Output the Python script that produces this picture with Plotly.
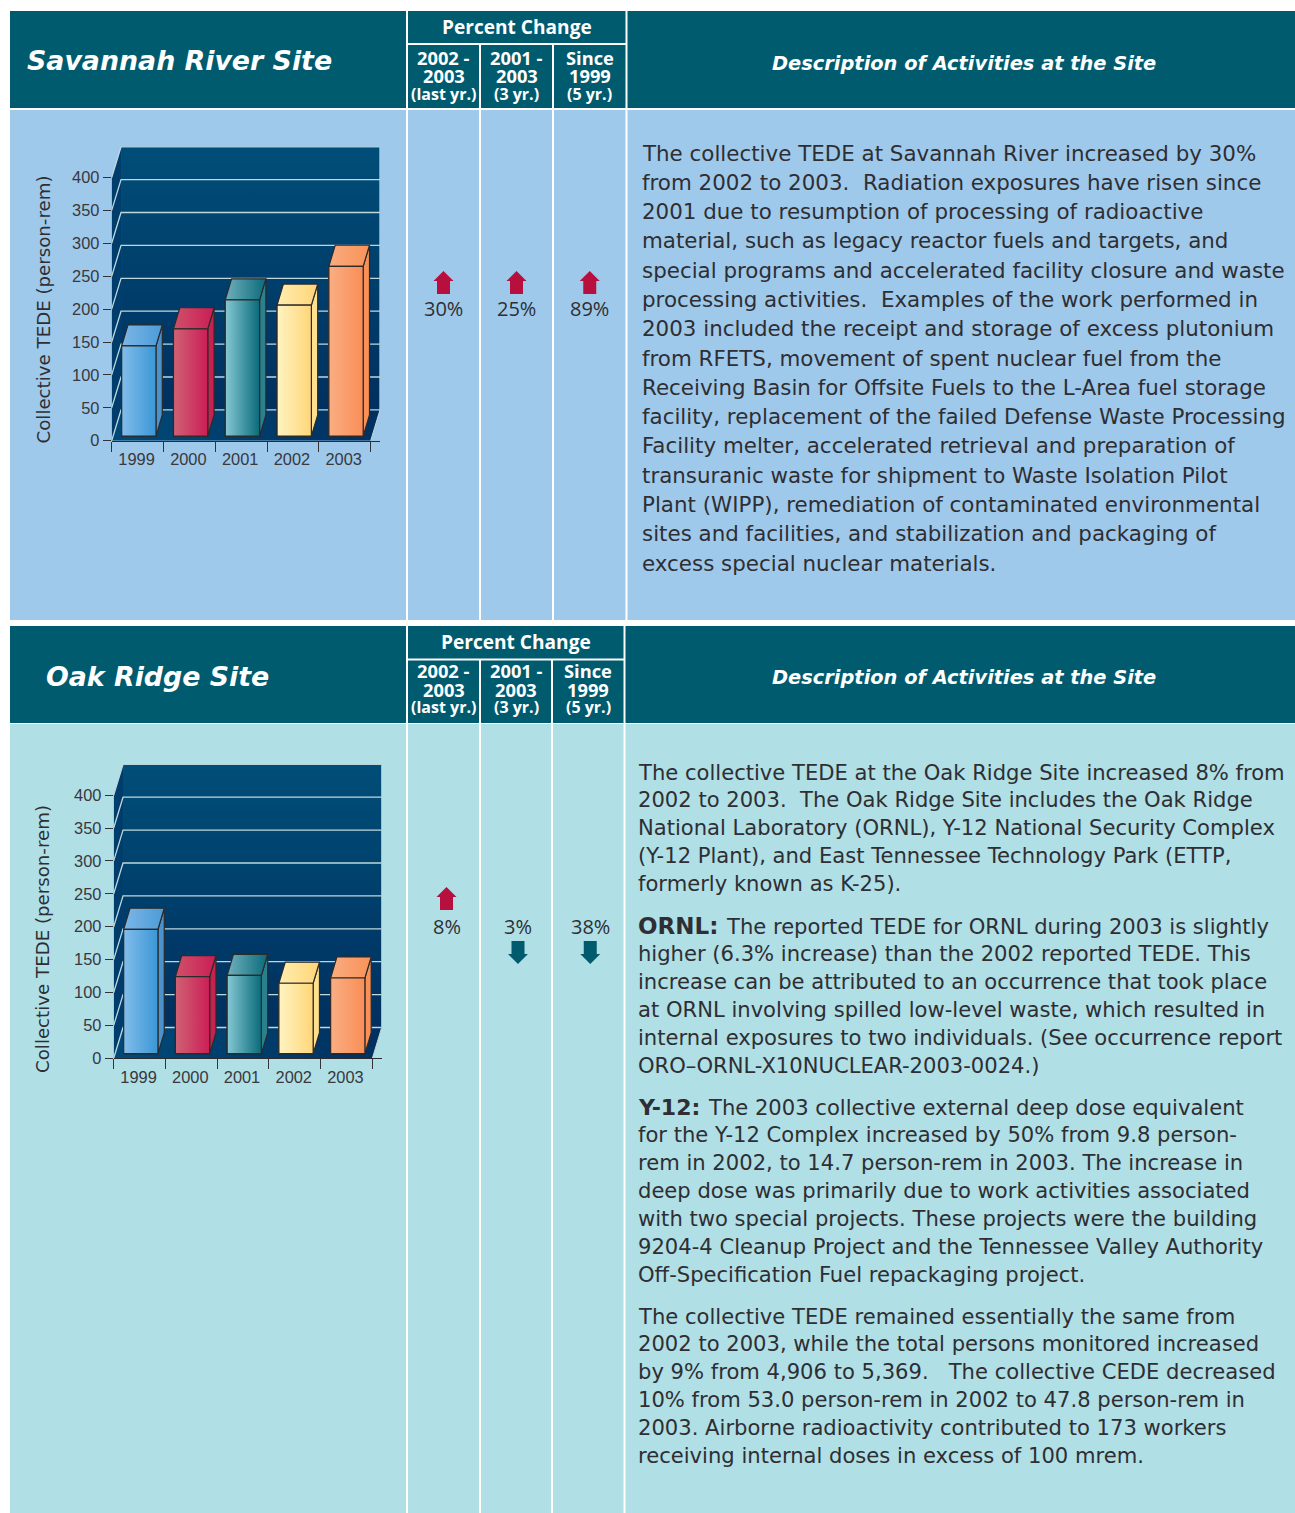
import plotly.graph_objects as go

W, H = 1295, 1513
TEAL = "#005B6F"
BLUE_BG = "#9FC9EA"
AQUA_BG = "#B0DFE6"
INK = "#2E2E33"
BODY_FONT = "DejaVu Sans"
HEAD_FONT = "Open Sans"

years = ["1999", "2000", "2001", "2002", "2003"]
y_ticks = [0, 50, 100, 150, 200, 250, 300, 350, 400]
savannah_values = [137, 163, 207, 199, 258]
oak_ridge_values = [189, 117, 119, 107, 115]

bar_faces = [("#82BDEA", "#3A97D6"), ("#CF6274", "#CB1E56"), ("#86C8D4", "#0A6A7A"),
             ("#FFF4C2", "#FFD678"), ("#F9AE84", "#FA8E56")]
bar_tops = [("#7DB6E6", "#4A9BD8"), ("#D0506A", "#C91E55"), ("#6FB0BC", "#0A6A7A"),
            ("#FFEDB0", "#FFD577"), ("#F9AC80", "#F99258")]
bar_sides = ["#4C92CC", "#C6224F", "#2A808D", "#FFE08E", "#F99058"]

savannah_text = [
    "The collective TEDE at Savannah River increased by 30%",
    "from 2002 to 2003.  Radiation exposures have risen since",
    "2001 due to resumption of processing of radioactive",
    "material, such as legacy reactor fuels and targets, and",
    "special programs and accelerated facility closure and waste",
    "processing activities.  Examples of the work performed in",
    "2003 included the receipt and storage of excess plutonium",
    "from RFETS, movement of spent nuclear fuel from the",
    "Receiving Basin for Offsite Fuels to the L-Area fuel storage",
    "facility, replacement of the failed Defense Waste Processing",
    "Facility melter, accelerated retrieval and preparation of",
    "transuranic waste for shipment to Waste Isolation Pilot",
    "Plant (WIPP), remediation of contaminated environmental",
    "sites and facilities, and stabilization and packaging of",
    "excess special nuclear materials.",
]
oak_par1 = [
    "The collective TEDE at the Oak Ridge Site increased 8% from",
    "2002 to 2003.  The Oak Ridge Site includes the Oak Ridge",
    "National Laboratory (ORNL), Y-12 National Security Complex",
    "(Y-12 Plant), and East Tennessee Technology Park (ETTP,",
    "formerly known as K-25).",
]
oak_par2 = [
    "The reported TEDE for ORNL during 2003 is slightly",
    "higher (6.3% increase) than the 2002 reported TEDE. This",
    "increase can be attributed to an occurrence that took place",
    "at ORNL involving spilled low-level waste, which resulted in",
    "internal exposures to two individuals. (See occurrence report",
    "ORO\u2013ORNL-X10NUCLEAR-2003-0024.)",
]
oak_par3 = [
    "The 2003 collective external deep dose equivalent",
    "for the Y-12 Complex increased by 50% from 9.8 person-",
    "rem in 2002, to 14.7 person-rem in 2003. The increase in",
    "deep dose was primarily due to work activities associated",
    "with two special projects. These projects were the building",
    "9204-4 Cleanup Project and the Tennessee Valley Authority",
    "Off-Specification Fuel repackaging project.",
]
oak_par4 = [
    "The collective TEDE remained essentially the same from",
    "2002 to 2003, while the total persons monitored increased",
    "by 9% from 4,906 to 5,369.   The collective CEDE decreased",
    "10% from 53.0 person-rem in 2002 to 47.8 person-rem in",
    "2003. Airborne radioactivity contributed to 173 workers",
    "receiving internal doses in excess of 100 mrem.",
]


def px(x):
    return x / W


def py(y):
    return 1 - y / H


shapes, notes = [], []


def rect(x0, y0, x1, y1, color):
    shapes.append(dict(type="rect", xref="paper", yref="paper", x0=px(x0), x1=px(x1),
                       y0=py(y0), y1=py(y1), fillcolor=color, line_width=0, layer="below"))


def text(x, y, s, size, color=INK, family=BODY_FONT, anchor="left", angle=0):
    notes.append(dict(xref="paper", yref="paper", x=px(x), y=py(y), text=s, showarrow=False,
                      xanchor=anchor, yanchor="middle", align=anchor, textangle=angle,
                      borderpad=0, font=dict(size=size, color=color, family=family)))


def arrow(cx, y_tip, up, color):
    s = 1 if up else -1
    pts = [(cx, y_tip), (cx + 10, y_tip + s * 10), (cx + 6.5, y_tip + s * 10), (cx + 6.5, y_tip + s * 23),
           (cx - 6.5, y_tip + s * 23), (cx - 6.5, y_tip + s * 10), (cx - 10, y_tip + s * 10)]
    path = "M " + " L ".join(f"{px(a):.5f},{py(b):.5f}" for a, b in pts) + " Z"
    shapes.append(dict(type="path", xref="paper", yref="paper", path=path, fillcolor=color,
                       line_width=0, layer="below"))


def panel(y_top, y_sub, y_head_end, y_body, y_end, cols, body_color, title, title_x, title_size,
          sub_offset, desc_offset, title_offset):
    c = cols
    rect(10, y_top, c[0], y_head_end, TEAL)
    rect(c[0] + 2, y_top, c[3], y_sub, TEAL)
    rect(c[0] + 2, y_sub + 2, c[1], y_head_end, TEAL)
    rect(c[1] + 2, y_sub + 2, c[2], y_head_end, TEAL)
    rect(c[2] + 2, y_sub + 2, c[3], y_head_end, TEAL)
    rect(c[3] + 2, y_top, 1295, y_head_end, TEAL)
    rect(10, y_body, c[0], y_end, body_color)
    rect(c[0] + 2, y_body, c[1], y_end, body_color)
    rect(c[1] + 2, y_body, c[2], y_end, body_color)
    rect(c[2] + 2, y_body, c[3], y_end, body_color)
    rect(c[3] + 2, y_body, 1295, y_end, body_color)
    text(title_x, y_top + title_offset, f"<b><i>{title}</i></b>", title_size, "white")
    text(964, y_top + desc_offset, "<b><i>Description of Activities at the Site</i></b>", 19.4, "white", anchor="center")
    text((c[0] + c[3]) / 2 + 1, y_top + 16, "<b>Percent Change</b>", 19.1, "white", HEAD_FONT, "center")
    heads = [("2002 -", "2003", "(last yr.)"), ("2001 -", "2003", "(3 yr.)"), ("Since", "1999", "(5 yr.)")]
    centers = [(c[0] + c[1]) / 2 + 1, (c[1] + c[2]) / 2 + 1, (c[2] + c[3]) / 2 + 1]
    for cx, lines in zip(centers, heads):
        for k, s in enumerate(lines):
            text(cx, y_top + sub_offset + k * 18, f"<b>{s}</b>", 16 if k == 2 else 18.3, "white", HEAD_FONT, "center")
    return centers


fig = go.Figure()

layout_axes = {}


def chart(idx, values, x0_px, x1_px, y0_px, y_top_px, y_title_x, y_title_y):
    """x0_px..x1_px / y0_px..y_top_px are the pixel box of the axes; data units map onto it."""
    base = f"{2 * idx + 1}" if idx else ""
    over = f"{2 * idx + 2}"
    xa, ya = "x" + base, "y" + base
    xo, yo = "x" + over, "y" + over
    dx, dy = 0.18, 46.8
    xmax = 5 + dx
    ymax = 400 + dy

    def add(xs, ys, fill=None, grad=None, line=None, lw=1.2, overlay=False):
        kw = dict(x=xs, y=ys, mode="lines", hoverinfo="skip", showlegend=False,
                  xaxis=xo if overlay else xa, yaxis=yo if overlay else ya)
        kw["line"] = dict(color=line or "rgba(0,0,0,0)", width=lw if line else 0)
        if fill or grad:
            kw["fill"] = "toself"
            if grad:
                kw["fillgradient"] = grad
            else:
                kw["fillcolor"] = fill
        fig.add_trace(go.Scatter(**kw))

    # side wall, floor, back wall
    add([0, dx, dx, 0, 0], [0, dy, ymax, 400, 0], fill="#003C6C")
    add([dx, xmax, xmax, dx, dx], [dy, dy, ymax, ymax, dy],
        grad=dict(type="vertical", colorscale=[[0, "#003060"], [1, "#004E78"]]))
    add([0, 5, xmax, dx, 0], [0, 0, dy, dy, 0],
        grad=dict(type="horizontal", colorscale=[[0, "#004A78"], [1, "#003060"]]))
    for t in y_ticks:
        add([0, dx, xmax], [t, t + dy, t + dy], line="#BFD8DC", lw=1.3)
    add([dx, xmax, xmax], [ymax, ymax, dy], line="#BFD8DC", lw=1.3)
    add([5, xmax], [0, dy], line="#BFD8DC", lw=1.0)

    # bars
    front = 0.15 * dy
    left, width = 0.193 - 0.027, 0.662
    off_x, off_y = 0.122, 32
    xs_centre = [i + left + 0.027 + width / 2 for i in range(len(values))]
    fig.add_trace(go.Bar(x=xs_centre, y=values, base=front, width=width, xaxis=xo, yaxis=yo,
                         marker=dict(color=[f[1] for f in bar_faces], line=dict(color="#2B2B2B", width=1.2)),
                         hoverinfo="skip", showlegend=False))
    for i, v in enumerate(values):
        a = xs_centre[i] - width / 2
        b = xs_centre[i] + width / 2
        top = v + front
        add([b, b + off_x, b + off_x, b, b], [front, front + off_y, top + off_y, top, front],
            fill=bar_sides[i], line="#2B2B2B", overlay=True)
        add([a, b, b + off_x, a + off_x, a], [top, top, top + off_y, top + off_y, top],
            grad=dict(type="horizontal", colorscale=[[0, bar_tops[i][0]], [1, bar_tops[i][1]]]),
            line="#2B2B2B", overlay=True)
        add([a, b, b, a, a], [front, front, top, top, front],
            grad=dict(type="horizontal", colorscale=[[0, bar_faces[i][0]], [1, bar_faces[i][1]]]),
            line="#2B2B2B", overlay=True)

    tickfont = dict(size=16.4, color="#38383D", family="Liberation Sans")
    dom_x = [px(x0_px), px(x1_px)]
    dom_y = [py(y0_px), py(y_top_px)]
    suffix = base
    layout_axes[f"xaxis{suffix}"] = dict(
        domain=dom_x, range=[0, xmax], anchor=ya, showgrid=False, zeroline=False, showline=True,
        automargin=False,
        linecolor="#2B2B33", linewidth=1, tickmode="array", tickvals=[i + 0.48 for i in range(5)],
        ticktext=years, ticks="", tickfont=tickfont, ticklabelstandoff=4,
        minor=dict(tickmode="array", tickvals=[0, 1, 2, 3, 4, 5], ticks="outside", ticklen=10,
                   tickcolor="#333338", tickwidth=1, showgrid=False),
    )
    layout_axes[f"yaxis{suffix}"] = dict(
        domain=dom_y, range=[0, ymax], anchor=xa, showgrid=False, zeroline=False, showline=False,
        automargin=False,
        tickmode="array", tickvals=y_ticks, ticks="outside", ticklen=8, tickcolor="#333338",
        tickwidth=1, tickfont=tickfont, ticklabelstandoff=0,
    )
    layout_axes[f"xaxis{over}"] = dict(domain=dom_x, range=[0, xmax], overlaying=xa, anchor=yo, visible=False,
                                       automargin=False)
    layout_axes[f"yaxis{over}"] = dict(domain=dom_y, range=[0, ymax], overlaying=ya, anchor=xo, visible=False,
                                       automargin=False)
    text(y_title_x, y_title_y, "Collective TEDE (person-rem)", 18.2, anchor="center", angle=-90)


PCT_SIZE = 20

# Panel 1
c1 = panel(11, 43, 108, 110, 620, [406, 479, 552, 625.5], BLUE_BG, "Savannah River Site", 26, 26.8, 47, 52, 49)
chart(0, savannah_values, 111.7, 380, 440.7, 146.7, 43, 309.5)
RED, DOWN = "#B7103F", TEAL
for cx, s in zip(c1, ["30%", "25%", "89%"]):
    arrow(cx, 271, True, RED)
    text(cx, 308, s, PCT_SIZE, family=HEAD_FONT, anchor="center")
for k, s in enumerate(savannah_text):
    text(640.5, 153 + k * 29.3, s, 21.4)

# Panel 2
c2 = panel(626, 658.5, 723, 724, 1513, [406, 479, 551, 623.5], AQUA_BG, "Oak Ridge Site", 45, 26.8, 45, 51, 50.5)
chart(1, oak_ridge_values, 113.7, 381.7, 1058.3, 764.3, 42, 939)
arrow(c2[0] + 3, 887, True, RED)
text(c2[0] + 3, 926.5, "8%", PCT_SIZE, family=HEAD_FONT, anchor="center")
for cx, s in zip(c2[1:], ["3%", "38%"]):
    text(cx + 2, 926.5, s, PCT_SIZE, family=HEAD_FONT, anchor="center")
    arrow(cx + 2, 964, False, DOWN)
for start, lines in [(772, oak_par1), (926, oak_par2), (1107, oak_par3), (1316, oak_par4)]:
    for k, s in enumerate(lines):
        x = 636.5
        if k == 0 and lines is oak_par2:
            text(636.5, start, "<b>ORNL:</b>", 23)
            x = 725
        if k == 0 and lines is oak_par3:
            text(636.5, start, "<b>Y-12:</b>", 22)
            x = 707
        text(x, start + k * 27.95, s, 21.1)

fig.update_layout(width=W, height=H, autosize=False, margin=dict(l=0, r=0, t=0, b=0, pad=0), paper_bgcolor="white",
                  plot_bgcolor="rgba(0,0,0,0)", showlegend=False, shapes=shapes, annotations=notes,
                  font=dict(family=BODY_FONT), **layout_axes)
fig.write_html("out.html", config={"displayModeBar": False, "responsive": False},
               post_script="document.body.style.margin='0';document.body.style.overflow='hidden';")
